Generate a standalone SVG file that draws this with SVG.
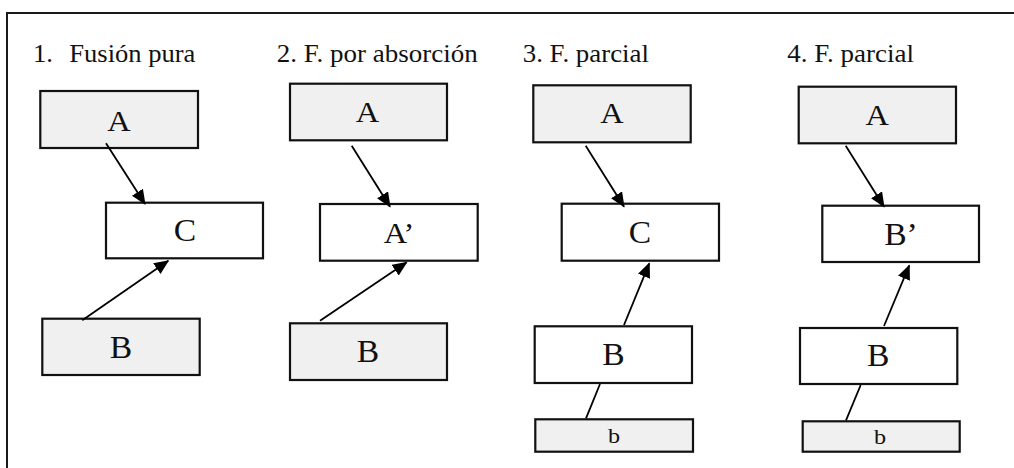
<svg xmlns="http://www.w3.org/2000/svg" width="1014" height="468" viewBox="0 0 1014 468">
  <style>
    .bg { fill: #ffffff; }
    .frame { fill: none; stroke: #1a1a1a; stroke-width: 2; }
    .box { stroke: #111111; stroke-width: 2.2; }
    .grey { fill: #f0f0f0; }
    .white { fill: #ffffff; }
    .lbl { font-family: 'Liberation Serif', 'Times New Roman', Times, serif; fill: #111111; }
    .title { font-size: 24.5px; }
    .big { font-size: 30px; text-anchor: middle; }
    .bigger { font-size: 32px; text-anchor: middle; }
    .small { font-size: 22px; text-anchor: middle; }
    .conn line { stroke: #000000; stroke-width: 1.8; }
  </style>
  <defs>
    <marker id="head" markerUnits="userSpaceOnUse" markerWidth="16" markerHeight="14" refX="14" refY="6.5" orient="auto">
      <path d="M0,0 L15,6.5 L0,13 z" fill="#000000"/>
    </marker>
  </defs>

  <rect class="bg" x="0" y="0" width="1014" height="468"/>
  <!-- outer frame: only the left and top edges fall inside the canvas -->
  <path class="frame" d="M7,468 V13 H1014"/>

  <!-- column titles -->
  <g id="titles" class="lbl">
    <text class="title" y="62"><tspan x="33" textLength="20" lengthAdjust="spacingAndGlyphs">1.</tspan><tspan x="69.3" textLength="126" lengthAdjust="spacingAndGlyphs">Fusión pura</tspan></text>
    <text class="title" x="276.7" y="62" textLength="201" lengthAdjust="spacingAndGlyphs">2. F. por absorción</text>
    <text class="title" x="522.7" y="62" textLength="126.3" lengthAdjust="spacingAndGlyphs">3. F. parcial</text>
    <text class="title" x="787.3" y="62" textLength="126.7" lengthAdjust="spacingAndGlyphs">4. F. parcial</text>
  </g>

  <!-- 1. Fusión pura -->
  <g id="p1-A">
    <rect class="box grey" x="40.3" y="91" width="157.7" height="57"/>
    <text class="lbl big" transform="translate(119 130.5) scale(1.08 1)">A</text>
  </g>
  <g id="p1-C">
    <rect class="box white" x="106" y="202.7" width="157" height="55.6"/>
    <text class="lbl bigger" transform="translate(185 240.7) scale(1.05 1)">C</text>
  </g>
  <g id="p1-B">
    <rect class="box grey" x="42.3" y="318.7" width="157.4" height="56.3"/>
    <text class="lbl bigger" transform="translate(121 357.7) scale(1.05 1)">B</text>
  </g>

  <!-- 2. F. por absorción -->
  <g id="p2-A">
    <rect class="box grey" x="290" y="83.7" width="157" height="56.6"/>
    <text class="lbl big" transform="translate(367.5 122) scale(1.08 1)">A</text>
  </g>
  <g id="p2-A2">
    <rect class="box white" x="320" y="204" width="157.7" height="56.7"/>
    <text class="lbl big" transform="translate(399 243) scale(1.08 1)">A’</text>
  </g>
  <g id="p2-B">
    <rect class="box grey" x="290" y="323.3" width="157" height="56.7"/>
    <text class="lbl bigger" transform="translate(368 362.3) scale(1.05 1)">B</text>
  </g>

  <!-- 3. F. parcial -->
  <g id="p3-A">
    <rect class="box grey" x="533.3" y="85.3" width="157.4" height="57"/>
    <text class="lbl big" transform="translate(612 123.3) scale(1.08 1)">A</text>
  </g>
  <g id="p3-C">
    <rect class="box white" x="561.7" y="203.7" width="157.3" height="57"/>
    <text class="lbl bigger" transform="translate(640 242.5) scale(1.05 1)">C</text>
  </g>
  <g id="p3-B">
    <rect class="box white" x="534.7" y="326.3" width="157.3" height="56.7"/>
    <text class="lbl bigger" transform="translate(613.5 365) scale(1.05 1)">B</text>
  </g>
  <g id="p3-b">
    <rect class="box grey" x="535.3" y="419.3" width="157.7" height="32.4"/>
    <text class="lbl small" transform="translate(614 443.3) scale(1.1 1)">b</text>
  </g>

  <!-- 4. F. parcial -->
  <g id="p4-A">
    <rect class="box grey" x="798.7" y="86.7" width="157.3" height="56.6"/>
    <text class="lbl big" transform="translate(877.3 125) scale(1.08 1)">A</text>
  </g>
  <g id="p4-B2">
    <rect class="box white" x="822.3" y="205.7" width="156.7" height="56.3"/>
    <text class="lbl bigger" transform="translate(901 244.5) scale(1.05 1)">B’</text>
  </g>
  <g id="p4-B">
    <rect class="box white" x="800" y="328" width="157.3" height="56"/>
    <text class="lbl bigger" transform="translate(878.3 366) scale(1.05 1)">B</text>
  </g>
  <g id="p4-b">
    <rect class="box grey" x="802.7" y="421.3" width="157" height="30.4"/>
    <text class="lbl small" transform="translate(880 444) scale(1.1 1)">b</text>
  </g>

  <!-- connectors -->
  <g id="connectors" class="conn">
    <line x1="106" y1="143.3" x2="145" y2="204" marker-end="url(#head)"/>
    <line x1="82.3" y1="320.3" x2="168.3" y2="260.7" marker-end="url(#head)"/>

    <line x1="351.7" y1="145.7" x2="390" y2="206.7" marker-end="url(#head)"/>
    <line x1="320" y1="320.7" x2="406.7" y2="262.3" marker-end="url(#head)"/>

    <line x1="585.7" y1="145.7" x2="624" y2="206.7" marker-end="url(#head)"/>
    <line x1="624" y1="325" x2="649.3" y2="263.3" marker-end="url(#head)"/>
    <line x1="586" y1="418.3" x2="600" y2="384"/>

    <line x1="845.7" y1="145.7" x2="884" y2="206.7" marker-end="url(#head)"/>
    <line x1="884" y1="326" x2="909.3" y2="265.3" marker-end="url(#head)"/>
    <line x1="846" y1="420.3" x2="860.7" y2="385"/>
  </g>
</svg>
